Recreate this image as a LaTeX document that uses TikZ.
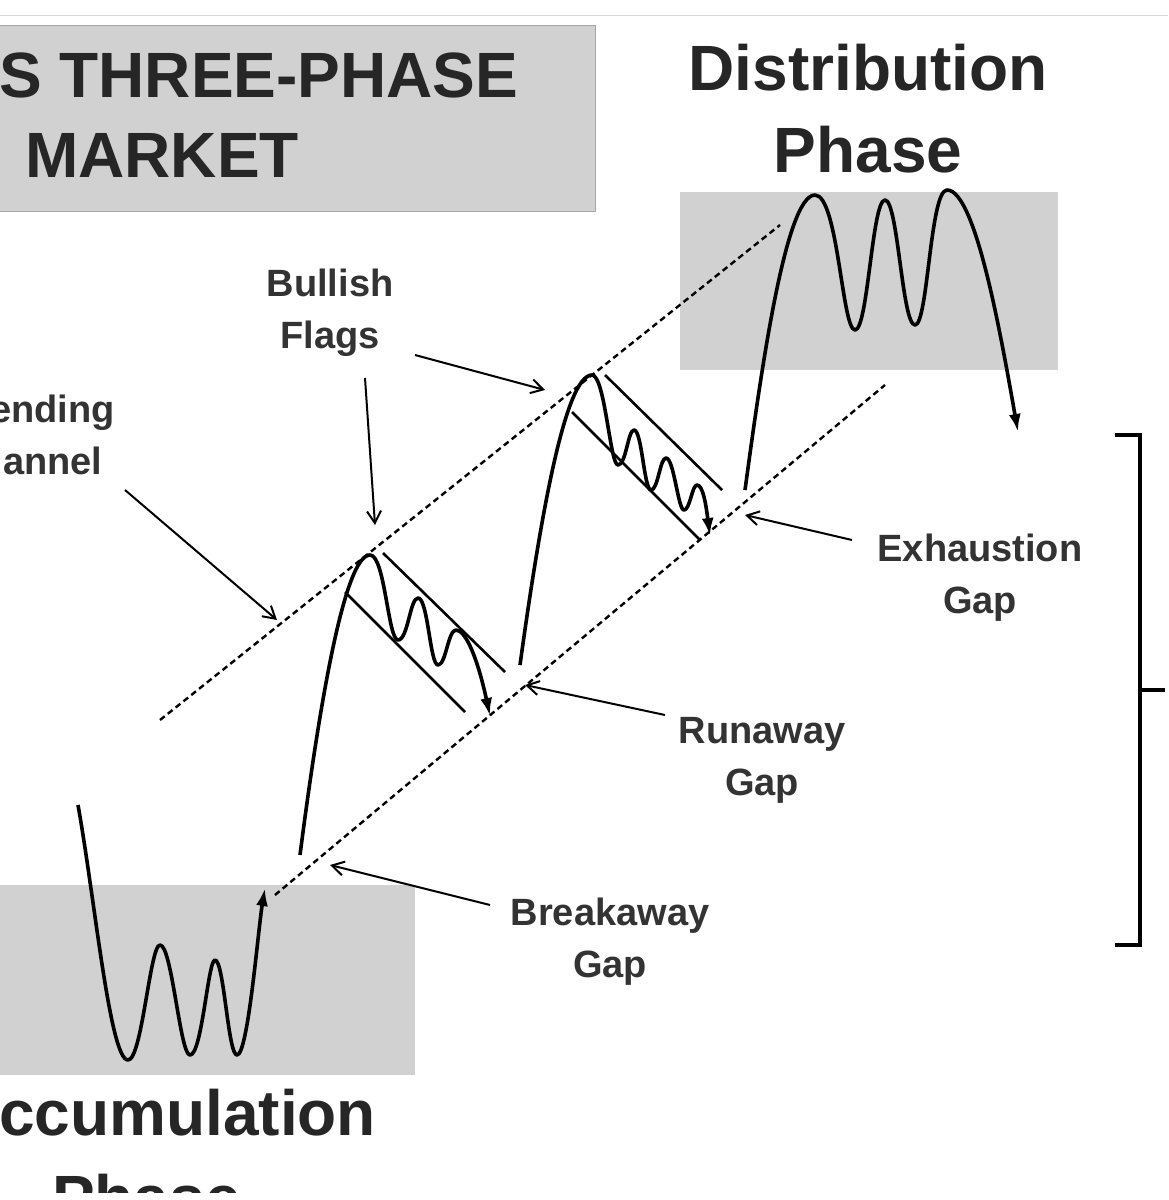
\documentclass[tikz,border=0pt]{standalone}
\usepackage{fontspec}
\setmainfont{Liberation Sans}
\usetikzlibrary{arrows.meta}
\begin{document}
\begin{tikzpicture}[x=0.5pt,y=-0.5pt,
  lbl/.style={font=\fontsize{19}{26}\selectfont\bfseries,align=center,text=black!80},
  big/.style={font=\fontsize{32}{36}\selectfont\bfseries,text=black!85},
  chan/.style={dashed,line width=1.2pt,dash pattern=on 3pt off 2pt},
  price/.style={line width=1.8pt,line join=round},
  parr/.style={-{Latex[length=9pt,width=6pt]}},
  pointer/.style={line width=1pt,-{Straight Barb[length=6pt,width=7pt]}},
  gbox/.style={fill=black!18,draw=none}]
\useasboundingbox (0,0) rectangle (1168,1200);
\fill[white] (0,0) rectangle (1168,1200);
\draw[black!15] (0,15) -- (1168,15);
% boxes
\node[gbox,draw=black!35,minimum width=298.5pt,minimum height=93pt,inner sep=0,anchor=north west] (tbox) at (-2,25) {};
\node[gbox,minimum width=189pt,minimum height=89pt,inner sep=0,anchor=north west] (dbox) at (680,192) {};
\node[gbox,minimum width=207.5pt,minimum height=95pt,inner sep=0,anchor=north west] (abox) at (0,885) {};
% titles
\node[big,anchor=west] (t1) at (-8,75) {S THREE-PHASE};
\node[big,anchor=west] (t2) at (18,155) {MARKET};
\node[big] (d1) at (868,68) {Distribution};
\node[big] (d2) at (868,150) {Phase};
\node[big,anchor=west] (a1) at (-8,1113) {ccumulation};
\begin{scope}
\clip (0,0) rectangle (1168,1192);
\node[big,anchor=west] (a2) at (45,1198) {Phase};
\end{scope}
% channel
\coordinate (u1) at (160,720); \coordinate (u2) at (780,225);
\coordinate (l1) at (275,895); \coordinate (l2) at (885,385);
\draw[chan] (u1) -- (u2);
\draw[chan] (l1) -- (l2);
% flag lines
\coordinate (f1a) at (345,592); \coordinate (f1b) at (465,712);
\coordinate (f1c) at (383,553); \coordinate (f1d) at (505,672);
\draw[line width=1.3pt] (f1a) -- (f1b) (f1c) -- (f1d);
\coordinate (f2a) at (572,412); \coordinate (f2b) at (700,540);
\coordinate (f2c) at (605,375); \coordinate (f2d) at (722,490);
\draw[line width=1.3pt] (f2a) -- (f2b) (f2c) -- (f2d);
% price
\draw[price,parr] (78,805) .. controls (95,900) and (110,1060) .. (128,1060)
  .. controls (142,1060) and (150,945) .. (160,945)
  .. controls (172,945) and (180,1055) .. (190,1055)
  .. controls (202,1055) and (208,960) .. (215,960)
  .. controls (224,960) and (228,1055) .. (237,1055)
  .. controls (248,1055) and (258,930) .. (265,888);
\draw[price,parr] (300,855) .. controls (320,700) and (345,555) .. (370,555)
  .. controls (385,555) and (388,640) .. (398,640)
  .. controls (408,640) and (410,598) .. (418,598)
  .. controls (428,598) and (430,665) .. (438,665)
  .. controls (446,665) and (448,630) .. (456,630)
  .. controls (466,630) and (478,660) .. (490,716);
\draw[price,parr] (520,665) .. controls (540,520) and (565,375) .. (592,375)
  .. controls (605,375) and (610,465) .. (618,465)
  .. controls (626,465) and (628,430) .. (634,430)
  .. controls (642,430) and (644,490) .. (651,490)
  .. controls (658,490) and (660,458) .. (666,458)
  .. controls (674,458) and (678,510) .. (684,510)
  .. controls (690,510) and (692,485) .. (697,485)
  .. controls (703,485) and (706,505) .. (710,536);
\draw[price,parr] (745,490) .. controls (760,380) and (785,195) .. (815,195)
  .. controls (838,195) and (842,330) .. (855,330)
  .. controls (868,330) and (872,200) .. (885,200)
  .. controls (898,200) and (902,325) .. (915,325)
  .. controls (928,325) and (930,190) .. (947,190)
  .. controls (975,190) and (1000,330) .. (1018,432);
% labels
\node[lbl] (bf) at (330,313) {Bullish\\Flags};
\node[lbl,anchor=east] (ch) at (122,435) {ending\\annel};
\node[lbl] (ex) at (980,578) {Exhaustion\\Gap};
\node[lbl] (rw) at (762,760) {Runaway\\Gap};
\node[lbl] (bg) at (610,942) {Breakaway\\Gap};
\coordinate (pbf1) at (375,525); \coordinate (pbf2) at (545,390);
\coordinate (pch) at (277,620); \coordinate (pex) at (745,515);
\coordinate (prw) at (525,685); \coordinate (pbg) at (330,865);
\draw[pointer] (365,378) -- (pbf1);
\draw[pointer] (415,355) -- (pbf2);
\draw[pointer] (125,490) -- (pch);
\draw[pointer] (852,540) -- (pex);
\draw[pointer] (665,715) -- (prw);
\draw[pointer] (490,905) -- (pbg);
% bracket
\draw[line width=1.8pt] (1115,435) -- (1140,435) -- (1140,945) -- (1115,945);
\draw[line width=1.8pt] (1140,690) -- (1165,690);
\end{tikzpicture}
\end{document}
